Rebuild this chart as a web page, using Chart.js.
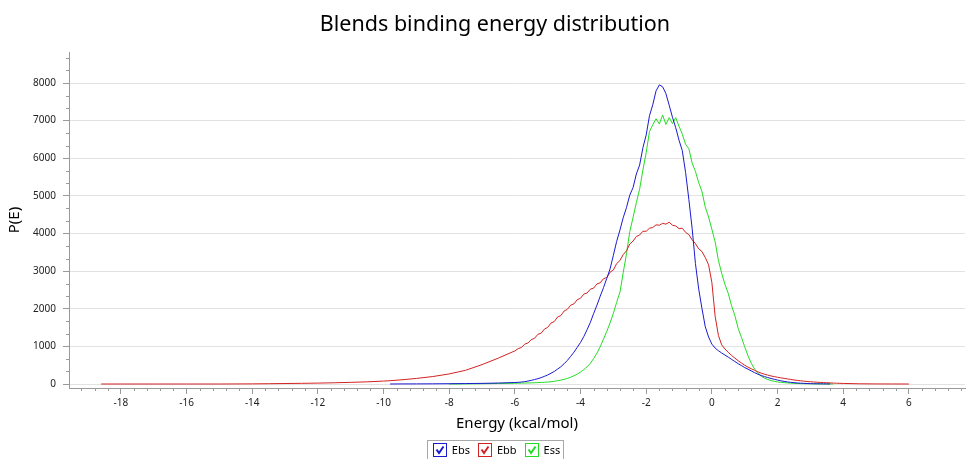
<!DOCTYPE html>
<html>
<head>
<meta charset="utf-8">
<script src="https://cdn.jsdelivr.net/npm/chart.js@4"></script>
<style>
html,body{margin:0;padding:0;background:#fff;}
canvas{display:block;}
</style>
</head>
<body>
<canvas id="c" width="969" height="459"></canvas>
<script>
const chartTitle = 'Blends binding energy distribution';
const xTitle = 'Energy (kcal/mol)';
const yTitle = 'P(E)';
const seriesNames = ['Ebs', 'Ebb', 'Ess'];
const seriesColors = ['#1a1ad0', '#d42222', '#22dd22'];
const xTicks = [-18, -16, -14, -12, -10, -8, -6, -4, -2, 0, 2, 4, 6];
const yTicks = [0, 1000, 2000, 3000, 4000, 5000, 6000, 7000, 8000];

const energies = [
  -18.6, -18, -17, -16, -15, -14, -13.5, -13, -12.5, -12, -11.5, -11, -10.5, -10, -9.8, -9.5, -9, -8.5, -8, -7.5, -7, -6.5,
  -6.0, -5.9, -5.8, -5.7, -5.6, -5.5, -5.4, -5.3, -5.2, -5.1,
  -5.0, -4.9, -4.8, -4.7, -4.6, -4.5, -4.4, -4.3, -4.2, -4.1,
  -4.0, -3.9, -3.8, -3.7, -3.6, -3.5, -3.4, -3.3, -3.2, -3.1,
  -3.0, -2.9, -2.8, -2.7, -2.6, -2.5, -2.4, -2.3, -2.2, -2.1,
  -2.0, -1.9, -1.8, -1.7, -1.6, -1.5, -1.4, -1.3, -1.2, -1.1,
  -1.0, -0.9, -0.8, -0.7, -0.6, -0.5, -0.4, -0.3, -0.2, -0.1,
  0.0, 0.1, 0.2, 0.3, 0.4, 0.5, 0.6, 0.7, 0.8, 0.9,
  1.0, 1.1, 1.2, 1.3, 1.4, 1.5, 1.6, 1.7, 1.8, 1.9,
  2.0, 2.1, 2.2, 2.3, 2.4, 2.5, 2.6, 2.7, 2.8, 2.9,
  3.0, 3.1, 3.2, 3.3, 3.4, 3.5, 3.6, 3.7, 3.8, 3.9,
  4.0, 4.5, 5.0, 5.5, 6.0
];

const ebs = [
  null, null, null, null, null, null, null, null, null, null, null, null, null, null, 0, 2, 3, 5, 8, 12, 17, 26,
  40, 44, 52, 63, 78, 98, 118, 142, 170, 203,
  240, 286, 334, 396, 458, 540, 628, 735, 846, 975,
  1105, 1262, 1445, 1640, 1875, 2095, 2335, 2560, 2810, 3060,
  3420, 3790, 4090, 4420, 4690, 5020, 5220, 5580, 5820, 6280,
  6620, 7130, 7420, 7790, 7950, 7900, 7720, 7410, 7090, 6810,
  6480, 6200, 5620, 4900, 4130, 3200, 2520, 2000, 1520, 1250,
  1060, 955, 885, 825, 768, 715, 655, 598, 540, 490,
  438, 396, 348, 302, 262, 228, 198, 172, 148, 126,
  106, 86, 70, 56, 45, 36, 28, 22, 17, 13,
  10, 8, 6, 5, 3, 2, 1, null, null, null,
  null, null, null, null, null
];

const ebb = [
  0, 0, 0, 0, 0, 4, 8, 13, 18, 24, 33, 44, 58, 78, 88, 108, 148, 198, 268, 365, 515, 690,
  880, 940, 970, 1060, 1090, 1180, 1215, 1320, 1350, 1460,
  1505, 1620, 1660, 1780, 1820, 1940, 1985, 2095, 2130, 2240,
  2280, 2390, 2420, 2520, 2550, 2660, 2690, 2800, 2830, 2970,
  3030, 3200, 3280, 3440, 3540, 3720, 3800, 3920, 3960, 4060,
  4060, 4140, 4160, 4230, 4220, 4270, 4250, 4300, 4220, 4200,
  4130, 4140, 4030, 3970, 3830, 3730, 3590, 3520, 3360, 3170,
  2700, 1800, 1290, 1040, 930, 840, 760, 690, 620, 560,
  500, 450, 405, 365, 325, 290, 262, 238, 215, 196,
  180, 164, 150, 136, 122, 108, 96, 86, 76, 67,
  60, 54, 48, 43, 38, 34, 29, 25, 21, 18,
  15, 6, 2, 1, 0
];

const ess = [
  null, null, null, null, null, null, null, null, null, null, null, null, null, null, null, null, null, null, 0, 4, 9, 14,
  20, 22, 24, 26, 28, 31, 34, 38, 42, 46,
  52, 60, 72, 88, 104, 124, 150, 180, 218, 264,
  318, 382, 458, 552, 678, 820, 990, 1195, 1400, 1625,
  1880, 2170, 2440, 2960, 3460, 4050, 4430, 4820, 5180, 5690,
  6150, 6710, 6890, 7050, 6910, 7150, 6900, 7080, 6920, 7080,
  6850, 6640, 6370, 6250, 5870, 5650, 5350, 5110, 4700, 4440,
  4110, 3780, 3280, 2940, 2640, 2410, 2080, 1820, 1480, 1240,
  990, 750, 555, 400, 288, 210, 158, 120, 92, 72,
  56, 45, 36, 29, 23, 18, 14, 11, 9, 7,
  6, 5, 4, 3, 2, 2, 1, 0, null, null,
  null, null, null, null, null
];

const seriesValues = [ebs, ebb, ess];

const FONT = '"Noto Sans", "DejaVu Sans", sans-serif';
const AXIS_GRAY = '#9a9a9a';

function makeCheckbox(color) {
  const c = document.createElement('canvas');
  c.width = 14; c.height = 14;
  const g = c.getContext('2d');
  g.fillStyle = '#fff';
  g.fillRect(0, 0, 14, 14);
  g.strokeStyle = color;
  g.lineWidth = 1;
  g.strokeRect(0.5, 0.5, 13, 13);
  g.lineWidth = 2;
  g.beginPath();
  g.moveTo(3.5, 6.5);
  g.lineTo(6, 10);
  g.lineTo(10.5, 3.5);
  g.stroke();
  return c;
}

const titlePlugin = {
  id: 'fixedTitle',
  afterDraw(chart) {
    const ctx = chart.ctx;
    ctx.save();
    ctx.fillStyle = '#000';
    ctx.font = '21.5px ' + FONT;
    ctx.textAlign = 'center';
    ctx.textBaseline = 'middle';
    ctx.fillText(chartTitle, 495, 25);
    ctx.restore();
  }
};

const minorTicksPlugin = {
  id: 'minorTicks',
  afterDraw(chart) {
    const ctx = chart.ctx;
    const xs = chart.scales.x, ys = chart.scales.y;
    const area = chart.chartArea;
    ctx.save();
    ctx.strokeStyle = AXIS_GRAY;
    ctx.lineWidth = 1;
    ctx.beginPath();
    for (let k = -3; k <= 64; k++) {
      if (k % 5 === 0) continue;
      const v = -18 + 0.4 * k;
      const px = Math.round(xs.getPixelForValue(v)) + 0.5;
      ctx.moveTo(px, area.bottom);
      ctx.lineTo(px, area.bottom + 3);
    }
    for (let k = 1; k <= 26; k++) {
      if (k % 3 === 0) continue;
      const v = k * 1000 / 3;
      const py = Math.round(ys.getPixelForValue(v)) + 0.5;
      ctx.moveTo(area.left - 3, py);
      ctx.lineTo(area.left, py);
    }
    ctx.stroke();
    ctx.restore();
  }
};

const legendPlugin = {
  id: 'checkLegend',
  afterDraw(chart) {
    const ctx = chart.ctx;
    ctx.save();
    ctx.font = '11px ' + FONT;
    const widths = seriesNames.map(n => 14 + 5 + ctx.measureText(n).width);
    const gap = 8;
    const total = widths.reduce((a, b) => a + b, 0) + gap * (widths.length - 1);
    const boxLeft = 495 - (total + 9) / 2;
    const boxTop = 440;
    ctx.strokeStyle = '#a8a8a8';
    ctx.lineWidth = 1;
    ctx.strokeRect(Math.round(boxLeft) + 0.5, boxTop + 0.5, Math.round(total + 9), 24);
    let x = boxLeft + 6;
    ctx.textBaseline = 'middle';
    ctx.textAlign = 'left';
    ctx.fillStyle = '#000';
    seriesNames.forEach((n, i) => {
      ctx.drawImage(makeCheckbox(seriesColors[i]), Math.round(x), 443);
      ctx.fillText(n, x + 19, 450.5);
      x += widths[i] + gap;
    });
    ctx.restore();
  }
};

const datasets = seriesNames.map((name, i) => ({
  label: name,
  data: energies.map((e, j) => ({ x: e, y: seriesValues[i][j] })),
  borderColor: seriesColors[i],
  backgroundColor: seriesColors[i],
  borderWidth: 1,
  pointRadius: 0,
  tension: 0,
  spanGaps: false,
  fill: false
}));

new Chart(document.getElementById('c'), {
  type: 'line',
  data: { datasets },
  plugins: [titlePlugin, minorTicksPlugin, legendPlugin],
  options: {
    responsive: false,
    animation: false,
    devicePixelRatio: 1,
    layout: { padding: { top: 52, right: 4, bottom: 21, left: 0 } },
    plugins: {
      legend: { display: false },
      title: { display: false },
      tooltip: { enabled: false }
    },
    scales: {
      x: {
        type: 'linear',
        min: -19.58,
        max: 7.71,
        afterBuildTicks: (axis) => { axis.ticks = xTicks.map(v => ({ value: v })); },
        afterFit: (axis) => { axis.height = 50; },
        grid: { drawOnChartArea: false, drawTicks: true, tickLength: 6, tickColor: AXIS_GRAY },
        border: { display: true, color: AXIS_GRAY },
        ticks: { color: '#222', font: { family: FONT, size: 10 }, padding: 3, maxRotation: 0, autoSkip: false, callback: (v) => String(v) },
        title: { display: true, text: xTitle, color: '#000', font: { family: FONT, size: 15 }, padding: { top: 0, bottom: 5 } }
      },
      y: {
        type: 'linear',
        min: -106,
        max: 8824,
        afterBuildTicks: (axis) => { axis.ticks = yTicks.map(v => ({ value: v })); },
        afterFit: (axis) => { axis.width = 69; },
        grid: { color: '#e2e2e2', drawTicks: true, tickLength: 6, tickColor: AXIS_GRAY },
        border: { display: true, color: AXIS_GRAY },
        ticks: { color: '#222', font: { family: FONT, size: 10 }, padding: 7, callback: (v) => String(v) },
        title: { display: true, text: yTitle, color: '#000', font: { family: FONT, size: 15 }, padding: { top: 6, bottom: 0 } }
      }
    }
  }
});
</script>
</body>
</html>
